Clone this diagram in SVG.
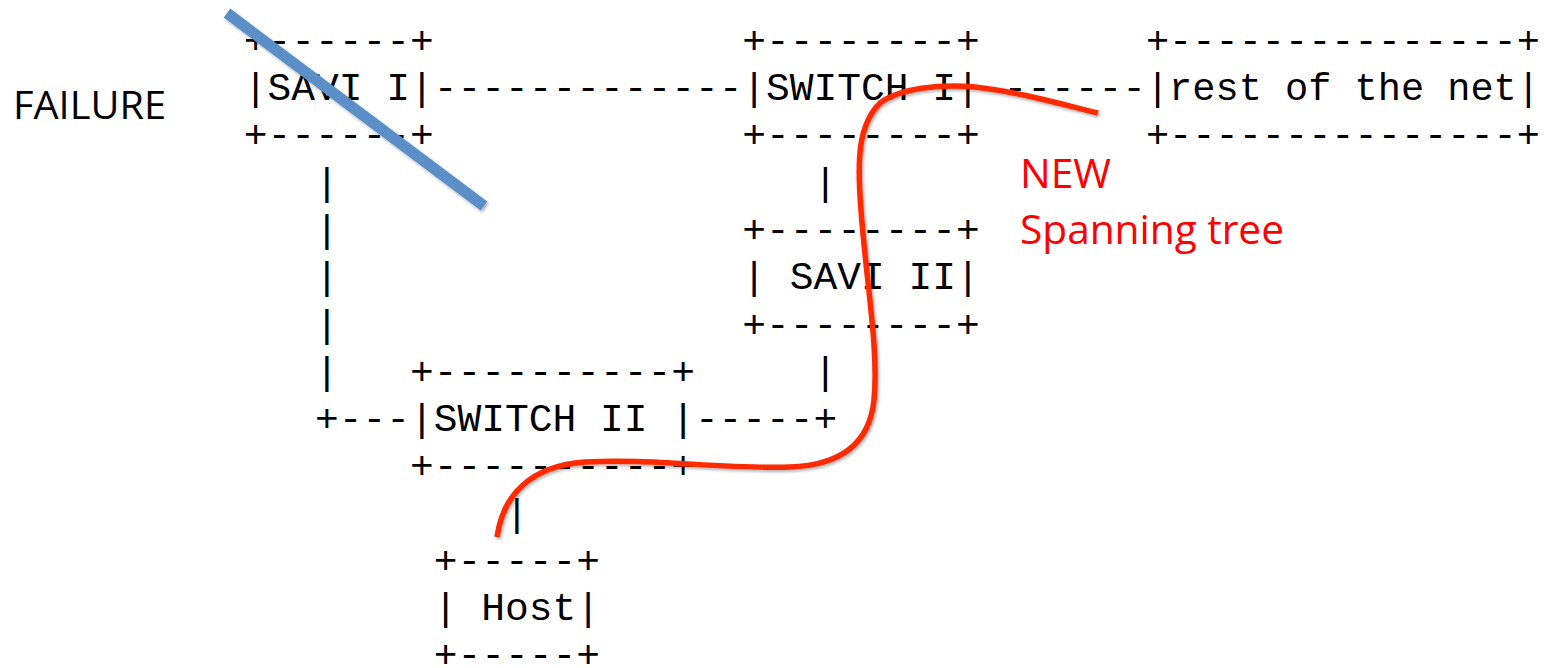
<svg xmlns="http://www.w3.org/2000/svg" width="1546" height="668" viewBox="0 0 1546 668" xml:space="preserve">
  <defs>
    <style>
      .m{font-family:"Liberation Mono","DejaVu Sans Mono",monospace;font-size:39.57px;fill:#000;white-space:pre}
      .lbl{font-family:"Open Sans","Noto Sans",sans-serif;font-size:39px;fill:#000}
      .red{font-family:"Open Sans","Noto Sans",sans-serif;font-size:40.5px;fill:#ff0000}
    </style>
    <filter id="sh" x="-10%" y="-10%" width="120%" height="120%">
      <feDropShadow dx="1.5" dy="2" stdDeviation="1.5" flood-color="#000" flood-opacity="0.3"/>
    </filter>
  </defs>
  <rect width="1546" height="668" fill="#fff"/>

  <g id="savi1" class="m">
    <text x="243.83" y="52.7">+------+</text>
    <text x="243.83" y="100">|SAVI I|</text>
    <text x="243.83" y="147.3">+------+</text>
  </g>
  <g id="switch1" class="m">
    <text x="742.37" y="52.7">+--------+</text>
    <text x="742.37" y="100">|SWITCH I|</text>
    <text x="742.37" y="147.3">+--------+</text>
  </g>
  <g id="rest" class="m">
    <text x="1145.95" y="52.7" textLength="394" lengthAdjust="spacingAndGlyphs">+---------------+</text>
    <text x="1145.95" y="100" textLength="394" lengthAdjust="spacingAndGlyphs">|rest of the net|</text>
    <text x="1145.95" y="147.3" textLength="394" lengthAdjust="spacingAndGlyphs">+---------------+</text>
  </g>
  <g id="savi2" class="m">
    <text x="742.37" y="241.9">+--------+</text>
    <text x="742.37" y="289.2">| SAVI II|</text>
    <text x="742.37" y="336.5">+--------+</text>
  </g>
  <g id="switch2" class="m">
    <text x="410.01" y="383.8">+----------+</text>
    <text x="410.01" y="431.1">|SWITCH II |</text>
    <text x="410.01" y="478.4">+----------+</text>
  </g>
  <g id="host" class="m">
    <text x="433.75" y="573">+-----+</text>
    <text x="433.75" y="620.3">| Host|</text>
    <text x="433.75" y="666.5">+-----+</text>
  </g>

  <g id="connectors" class="m">
    <text x="433.75" y="100">-------------</text>
    <text x="979.77" y="100">-------</text>
    <text x="315.05" y="194.6">|</text>
    <text x="315.05" y="241.9">|</text>
    <text x="315.05" y="289.2">|</text>
    <text x="315.05" y="336.5">|</text>
    <text x="315.05" y="383.8">|</text>
    <text x="813.59" y="194.6">|</text>
    <text x="813.59" y="383.8">|</text>
    <text x="315.05" y="431.1">+---</text>
    <text x="694.89" y="431.1">-----+</text>
    <text x="504.97" y="525.7">|</text>
  </g>

  <g id="annotations">
    <text class="lbl" x="13" y="119" textLength="153" lengthAdjust="spacingAndGlyphs">FAILURE</text>
    <line x1="227" y1="13" x2="484" y2="206" stroke="#5b8fc8" stroke-width="11" filter="url(#sh)"/>
    <path d="M497 537 C503 495 530 466 585 462 C650 458 720 469 790 467 C845 465 870 440 874 400 C879 350 866 280 861 210 C857 160 858 125 880 103 C900 88 940 84 975 87 C1020 92 1060 104 1098 113" fill="none" stroke="#ff2a00" stroke-width="5.5" filter="url(#sh)"/>
    <text class="red" x="1020" y="188" textLength="91" lengthAdjust="spacingAndGlyphs">NEW</text>
    <text class="red" x="1020" y="244" textLength="264" lengthAdjust="spacingAndGlyphs">Spanning tree</text>
  </g>
</svg>
